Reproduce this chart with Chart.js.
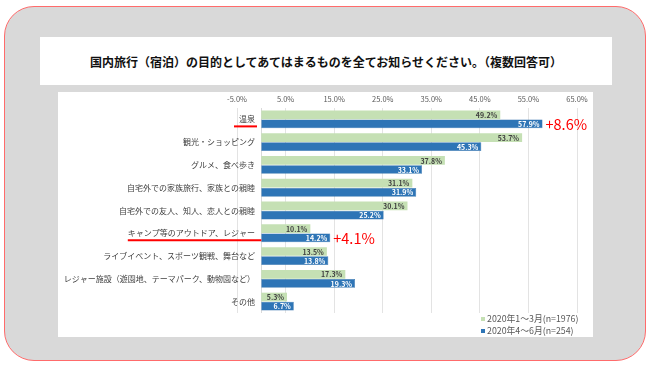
<!DOCTYPE html>
<html><head><meta charset="utf-8">
<script src="https://cdn.jsdelivr.net/npm/chart.js@4"></script>
<style>
html,body{margin:0;padding:0;background:#fff;width:650px;height:366px;overflow:hidden;font-family:"Noto Sans CJK JP",sans-serif;}
#frame{position:absolute;left:4px;top:6px;width:642px;height:355px;box-sizing:border-box;background:#d9d9d9;border:1.5px solid #ff6b6b;border-radius:30px;}
#title{position:absolute;left:40px;top:37px;width:572px;height:48px;background:#fff;display:flex;align-items:center;justify-content:center;font-size:12px;font-weight:bold;color:#111;}
#box{position:absolute;left:58px;top:92px;width:535px;height:245px;background:#fff;}
</style></head>
<body>
<div id="frame"></div>
<div id="title">国内旅行（宿泊）の目的としてあてはまるものを全てお知らせください。（複数回答可）</div>
<div id="box"><canvas id="c"></canvas></div>
<script>
const categories = ['温泉','観光・ショッピング','グルメ、食べ歩き','自宅外での家族旅行、家族との親睦','自宅外での友人、知人、恋人との親睦','キャンプ等のアウトドア、レジャー','ライブイベント、スポーツ観戦、舞台など','レジャー施設（遊園地、テーマパーク、動物園など）','その他'];
const seriesNames = ['2020年1～3月(n=1976)','2020年4～6月(n=254)'];
const janMar = [49.2,53.7,37.8,31.1,30.1,10.1,13.5,17.3,5.3];
const aprJun = [57.9,45.3,33.1,31.9,25.2,14.2,13.8,19.3,6.7];
const xMin = -5, xMax = 65, xStep = 10;
const annotCats = ['温泉','キャンプ等のアウトドア、レジャー'];
const annotTexts = ['+8.6%','+4.1%'];
const annotToZero = [false,true];

const FONT = '"Noto Sans CJK JP", sans-serif';
const LABEL_SHIFT = 18;

const extras = {
  id:'extras',
  beforeDatasetsDraw(chart){
    const {ctx, chartArea:a, scales:{x}} = chart;
    const x0 = x.getPixelForValue(0);
    ctx.save();
    ctx.strokeStyle='#d9d9d9'; ctx.lineWidth=1;
    ctx.beginPath(); ctx.moveTo(Math.round(x0)+0.5,a.top); ctx.lineTo(Math.round(x0)+0.5,a.bottom); ctx.stroke();
    ctx.restore();
  },
  afterDatasetsDraw(chart){
    const {ctx, chartArea:a, scales:{x,y}} = chart;
    ctx.save();
    // value labels
    ctx.font = 'bold 7px '+FONT; ctx.textAlign='right'; ctx.textBaseline='middle';
    chart.data.datasets.forEach((ds,i)=>{
      const meta = chart.getDatasetMeta(i);
      ctx.fillStyle = i===0 ? '#404040' : '#ffffff';
      meta.data.forEach((bar,j)=>{
        ctx.fillText(ds.data[j].toFixed(1)+'%', bar.x-3, bar.y+0.5);
      });
    });
    // annotations
    const x0 = x.getPixelForValue(0);
    const labelRight = a.left + LABEL_SHIFT;
    annotCats.forEach((cat,k)=>{
      const idx = categories.indexOf(cat);
      const cy = y.getPixelForValue(idx);
      ctx.font = '8px '+FONT;
      const w = ctx.measureText(cat).width;
      const x1 = annotToZero[k] ? labelRight - w : labelRight - w - 5;
      const x2 = annotToZero[k] ? x0 : labelRight + 2;
      ctx.strokeStyle = '#ff0000'; ctx.lineWidth = 2;
      ctx.beginPath(); ctx.moveTo(x1, cy+7); ctx.lineTo(x2, cy+7); ctx.stroke();
      const bar = chart.getDatasetMeta(1).data[idx];
      ctx.fillStyle = '#ff0000'; ctx.font = '14.5px '+FONT; ctx.textAlign='left'; ctx.textBaseline='middle';
      ctx.fillText(annotTexts[k], bar.x+3, bar.y+1);
    });
    // legend
    ctx.font = '8.8px '+FONT; ctx.textAlign='left'; ctx.textBaseline='middle';
    chart.data.datasets.forEach((ds,i)=>{
      const lx = a.right - 96, ly = a.bottom + 6 + i*12;
      ctx.fillStyle = ds.backgroundColor;
      ctx.fillRect(lx, ly-2, 4, 4);
      ctx.fillStyle = '#595959';
      ctx.fillText(ds.label, lx+6, ly);
    });
    ctx.restore();
  }
};

new Chart(document.getElementById('c'), {
  type:'bar',
  data:{
    labels: categories,
    datasets:[
      {label:seriesNames[0], data:janMar, backgroundColor:'#c5e0b4', categoryPercentage:0.8, barPercentage:0.96},
      {label:seriesNames[1], data:aprJun, backgroundColor:'#2e75b6', borderColor:'#2a6aa6', borderWidth:0.5, categoryPercentage:0.8, barPercentage:0.96}
    ]
  },
  options:{
    indexAxis:'y',
    responsive:true, maintainAspectRatio:false, animation:false,
    layout:{padding:{left:0,right:16,top:0,bottom:24}},
    plugins:{legend:{display:false}, tooltip:{enabled:false}},
    scales:{
      x:{
        position:'top', min:xMin, max:xMax,
        ticks:{stepSize:xStep, padding:4, color:'#595959', font:{family:FONT,size:7.5}, callback:v=>v.toFixed(1)+'%'},
        grid:{color:'#e3e3e3', drawTicks:false},
        border:{display:false},
        afterFit:s=>{s.height=16;}
      },
      y:{
        ticks:{autoSkip:false, padding:-LABEL_SHIFT, color:'#404040', font:{family:FONT,size:8}},
        grid:{display:false, drawTicks:false},
        border:{display:false},
        afterFit:s=>{s.width=179; s._computeLabelArea = () => undefined;}
      }
    }
  },
  plugins:[extras]
});
</script>
</body></html>
